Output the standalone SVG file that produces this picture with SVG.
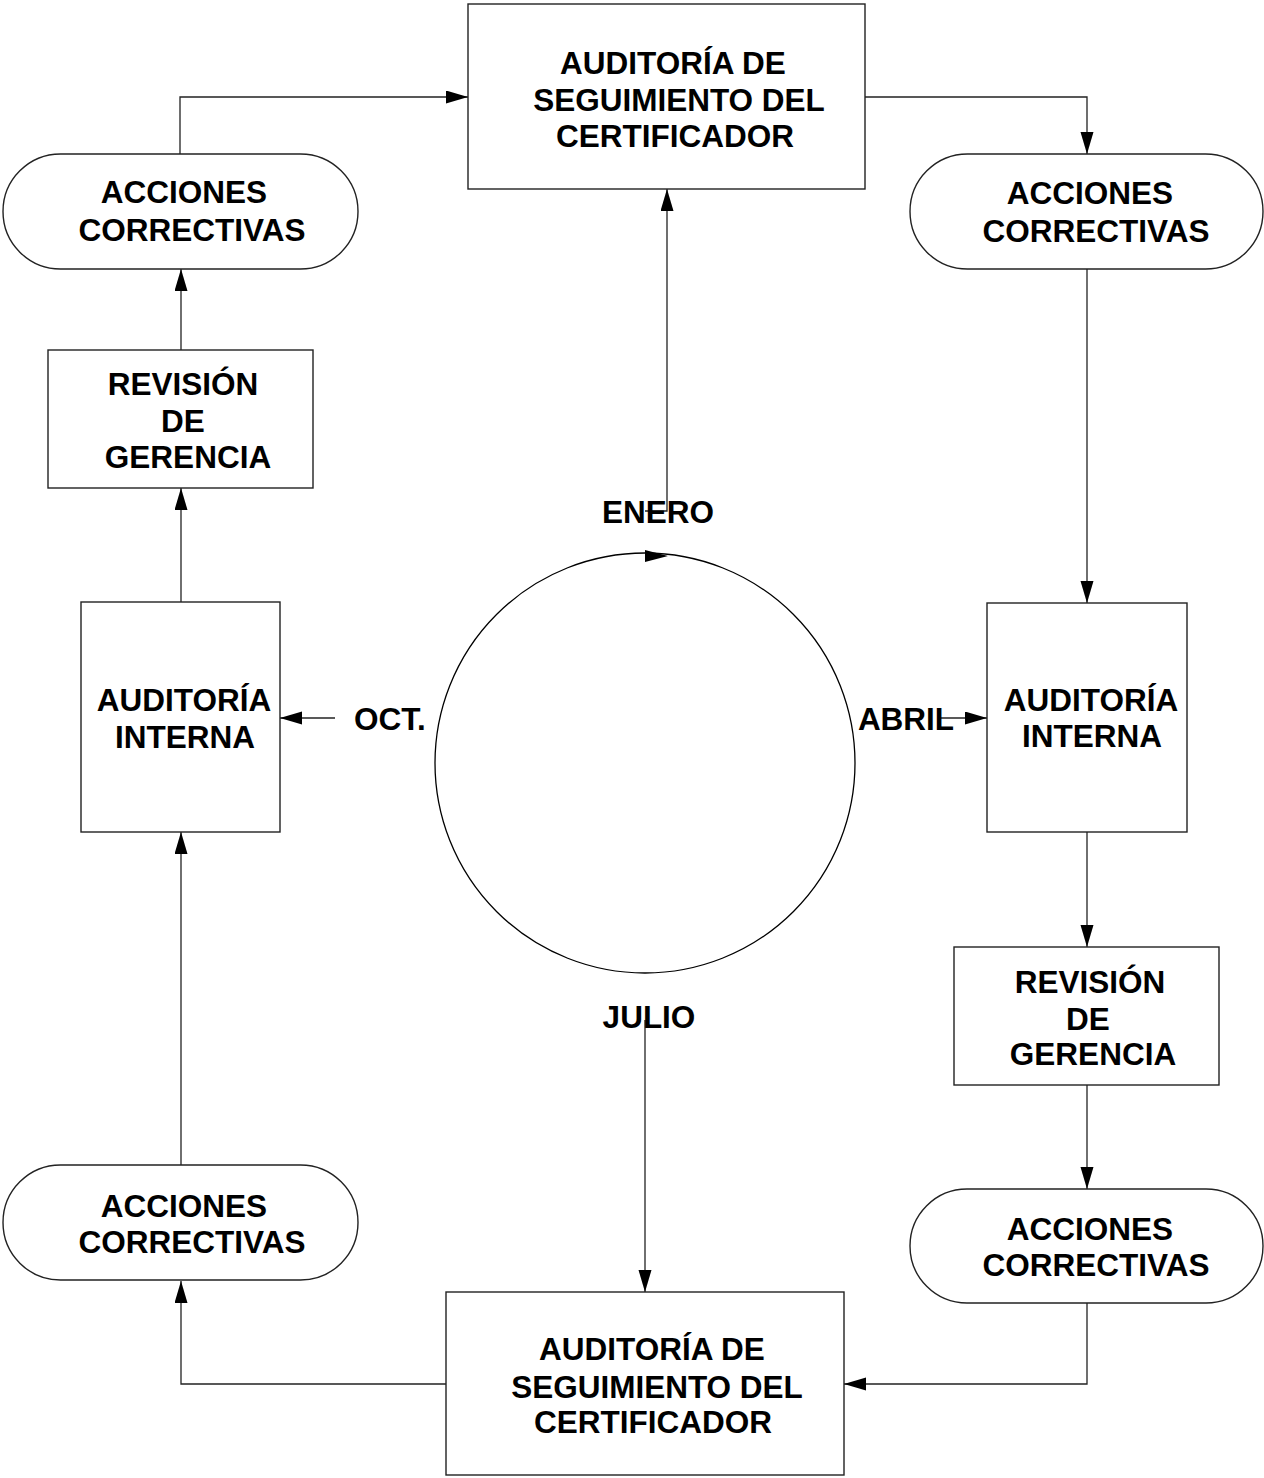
<svg xmlns="http://www.w3.org/2000/svg" width="1264" height="1478" viewBox="0 0 1264 1478">
<defs>
<style>
.box{fill:#fff;stroke:#222;stroke-width:1.4}
.t{font-family:"Liberation Sans",Arial,sans-serif;font-weight:bold;font-size:31.5px;fill:#000;text-anchor:middle}
.c{fill:none;stroke:#222;stroke-width:1.3}
</style>
<marker id="ah" markerUnits="userSpaceOnUse" markerWidth="23" markerHeight="14" refX="22" refY="6.5" orient="auto">
<path d="M0,0 L22,6.5 L0,13 z" fill="#000"/>
</marker>
</defs>
<rect width="1264" height="1478" fill="#fff"/>

<g id="connectors">
<polyline class="c" points="180,155 180,97 468,97" marker-end="url(#ah)"/>
<polyline class="c" points="865,97 1087,97 1087,154" marker-end="url(#ah)"/>
<line class="c" x1="1087" y1="269" x2="1087" y2="603" marker-end="url(#ah)"/>
<line class="c" x1="1087" y1="832" x2="1087" y2="947" marker-end="url(#ah)"/>
<line class="c" x1="1087" y1="1085" x2="1087" y2="1189" marker-end="url(#ah)"/>
<polyline class="c" points="1087,1303 1087,1384 844,1384" marker-end="url(#ah)"/>
<polyline class="c" points="450,1384 181,1384 181,1281" marker-end="url(#ah)"/>
<line class="c" x1="181" y1="1165" x2="181" y2="832" marker-end="url(#ah)"/>
<line class="c" x1="181" y1="602" x2="181" y2="488" marker-end="url(#ah)"/>
<line class="c" x1="181" y1="350" x2="181" y2="269" marker-end="url(#ah)"/>
<polyline class="c" points="645,511 667,511 667,189" marker-end="url(#ah)"/>
<line class="c" x1="645" y1="1020" x2="645" y2="1292" marker-end="url(#ah)"/>
<line class="c" x1="335" y1="718" x2="280" y2="718" marker-end="url(#ah)"/>
<line class="c" x1="940" y1="718" x2="987" y2="718" marker-end="url(#ah)"/>
</g>

<g id="cycle">
<circle cx="645" cy="763" r="210" fill="none" stroke="#000" stroke-width="1.3"/>
<path d="M645,550 L668,556 L645,562 z" fill="#000"/>
</g>

<g id="audit-top">
<rect class="box" x="468" y="4" width="397" height="185"/>
<text class="t" x="673" y="74">AUDITORÍA DE</text>
<text class="t" x="679" y="111">SEGUIMIENTO DEL</text>
<text class="t" x="675" y="147">CERTIFICADOR</text>
</g>

<g id="acc-top-left">
<rect class="box" x="3" y="154" width="355" height="115" rx="57.5"/>
<text class="t" x="184" y="203">ACCIONES</text>
<text class="t" x="192" y="241">CORRECTIVAS</text>
</g>

<g id="acc-top-right">
<rect class="box" x="910" y="154" width="353" height="115" rx="57.5"/>
<text class="t" x="1090" y="204">ACCIONES</text>
<text class="t" x="1096" y="242">CORRECTIVAS</text>
</g>

<g id="rev-left">
<rect class="box" x="48" y="350" width="265" height="138"/>
<text class="t" x="183" y="395">REVISIÓN</text>
<text class="t" x="183" y="432">DE</text>
<text class="t" x="188" y="468">GERENCIA</text>
</g>

<g id="ai-left">
<rect class="box" x="81" y="602" width="199" height="230"/>
<text class="t" x="184" y="711">AUDITORÍA</text>
<text class="t" x="185" y="748">INTERNA</text>
</g>

<g id="ai-right">
<rect class="box" x="987" y="603" width="200" height="229"/>
<text class="t" x="1091" y="711">AUDITORÍA</text>
<text class="t" x="1092" y="747">INTERNA</text>
</g>

<g id="rev-right">
<rect class="box" x="954" y="947" width="265" height="138"/>
<text class="t" x="1090" y="993">REVISIÓN</text>
<text class="t" x="1088" y="1030">DE</text>
<text class="t" x="1093" y="1065">GERENCIA</text>
</g>

<g id="acc-bottom-right">
<rect class="box" x="910" y="1189" width="353" height="114" rx="57"/>
<text class="t" x="1090" y="1240">ACCIONES</text>
<text class="t" x="1096" y="1276">CORRECTIVAS</text>
</g>

<g id="acc-bottom-left">
<rect class="box" x="3" y="1165" width="355" height="115" rx="57.5"/>
<text class="t" x="184" y="1217">ACCIONES</text>
<text class="t" x="192" y="1253">CORRECTIVAS</text>
</g>

<g id="audit-bottom">
<rect class="box" x="446" y="1292" width="398" height="183"/>
<text class="t" x="652" y="1360">AUDITORÍA DE</text>
<text class="t" x="657" y="1398">SEGUIMIENTO DEL</text>
<text class="t" x="653" y="1433">CERTIFICADOR</text>
</g>

<g id="labels">
<text class="t" x="658" y="523">ENERO</text>
<text class="t" x="906" y="730">ABRIL</text>
<text class="t" x="649" y="1028">JULIO</text>
<text class="t" x="390" y="730">OCT.</text>
</g>
</svg>
